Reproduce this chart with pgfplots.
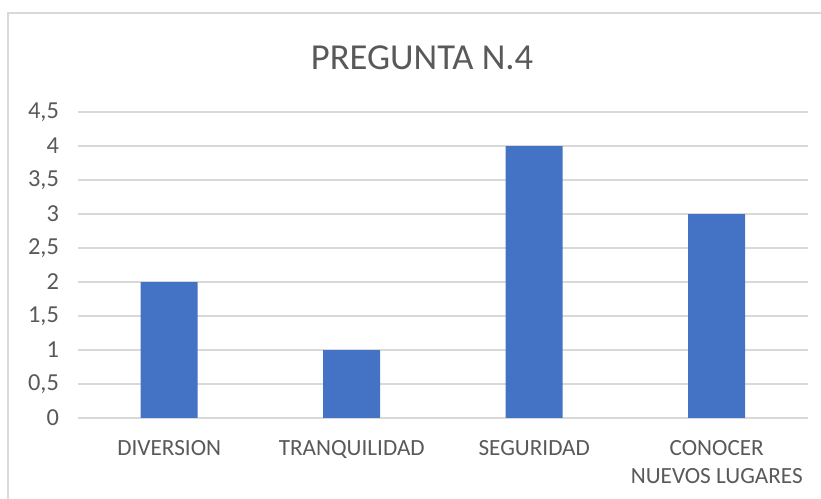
\documentclass[border=0pt]{standalone}
\usepackage{fontspec}
\setmainfont{Carlito}
\usepackage{pgfplots}
\pgfplotsset{compat=1.18}
\definecolor{barblue}{HTML}{4472C4}
\definecolor{gridgray}{HTML}{D9D9D9}
\definecolor{textgray}{HTML}{595959}
\begin{document}
\begin{tikzpicture}[x=1pt,y=1pt]
\useasboundingbox (0,0) rectangle (410.5,249.5);
\draw[gridgray, line width=0.6pt] (4,0) -- (4,243) -- (410.5,243);
\node[text=textgray, font=\fontsize{18.3}{22}\selectfont] at (211,220.5) {PREGUNTA N.4};
\begin{axis}[
    at={(39pt,40.5pt)}, anchor=south west,
    scale only axis,
    width=365pt, height=153pt,
    ybar, bar width=28.5pt,
    xmin=-0.5, xmax=3.5,
    ymin=0, ymax=4.5,
    xtick=data,
    xticklabels={DIVERSION, TRANQUILIDAD, SEGURIDAD, {CONOCER\\NUEVOS LUGARES}},
    xticklabel style={align=center, text=textgray, font=\fontsize{11.6}{14}\selectfont, yshift=-7.5pt},
    ytick={0,0.5,...,4.5},
    yticklabel style={text=textgray, font=\fontsize{12.2}{14}\selectfont, xshift=-6pt},
    /pgf/number format/use comma,
    /pgf/number format/assume math mode=true,
    major tick length=0pt,
    ymajorgrids, grid style={gridgray, line width=0.6pt},
    axis x line*=bottom, axis y line*=left,
    x axis line style={gridgray, line width=0.6pt},
    y axis line style={draw=none},
]
\addplot[fill=barblue, draw=none] coordinates {(0,2) (1,1) (2,4) (3,3)};
\end{axis}
\end{tikzpicture}
\end{document}
